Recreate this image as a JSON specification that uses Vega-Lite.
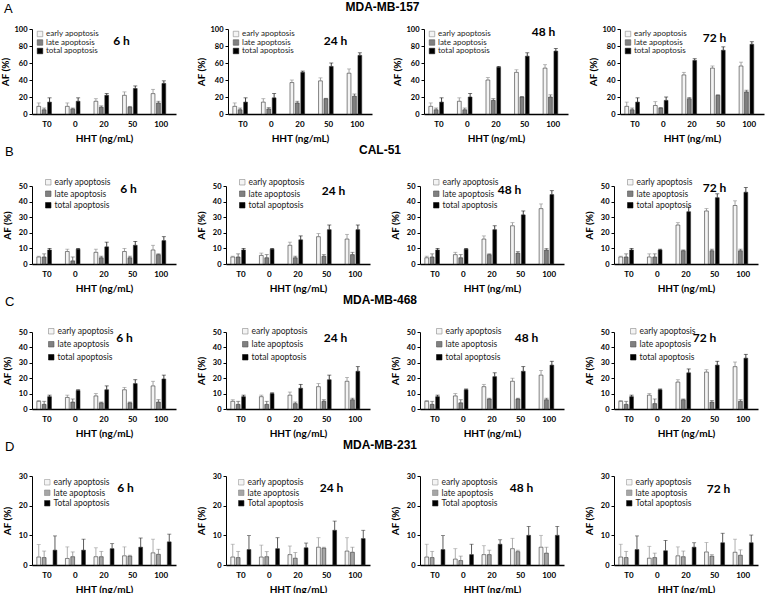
{
"$schema":"https://vega.github.io/schema/vega-lite/v6.json",
"padding":{"left":0,"top":1,"right":2,"bottom":1},
"background":"white",
"data":{"values":[
{"c":"A","t":"6 h","d":"T0","k":"early apoptosis","v":9,"hi":13},{"c":"A","t":"6 h","d":"T0","k":"late apoptosis","v":5,"hi":7},{"c":"A","t":"6 h","d":"T0","k":"total apoptosis","v":14,"hi":19},
{"c":"A","t":"6 h","d":"0","k":"early apoptosis","v":9,"hi":13},{"c":"A","t":"6 h","d":"0","k":"late apoptosis","v":6,"hi":7},{"c":"A","t":"6 h","d":"0","k":"total apoptosis","v":15,"hi":19},
{"c":"A","t":"6 h","d":"20","k":"early apoptosis","v":15,"hi":18},{"c":"A","t":"6 h","d":"20","k":"late apoptosis","v":8,"hi":9.5},{"c":"A","t":"6 h","d":"20","k":"total apoptosis","v":22,"hi":24},
{"c":"A","t":"6 h","d":"50","k":"early apoptosis","v":22,"hi":26},{"c":"A","t":"6 h","d":"50","k":"late apoptosis","v":8,"hi":9},{"c":"A","t":"6 h","d":"50","k":"total apoptosis","v":30,"hi":33},
{"c":"A","t":"6 h","d":"100","k":"early apoptosis","v":24,"hi":29},{"c":"A","t":"6 h","d":"100","k":"late apoptosis","v":13,"hi":15},{"c":"A","t":"6 h","d":"100","k":"total apoptosis","v":36,"hi":39},
{"c":"A","t":"24 h","d":"T0","k":"early apoptosis","v":9,"hi":13},{"c":"A","t":"24 h","d":"T0","k":"late apoptosis","v":5,"hi":7},{"c":"A","t":"24 h","d":"T0","k":"total apoptosis","v":14,"hi":19},
{"c":"A","t":"24 h","d":"0","k":"early apoptosis","v":14,"hi":18},{"c":"A","t":"24 h","d":"0","k":"late apoptosis","v":6,"hi":7.5},{"c":"A","t":"24 h","d":"0","k":"total apoptosis","v":19,"hi":24},
{"c":"A","t":"24 h","d":"20","k":"early apoptosis","v":37,"hi":40},{"c":"A","t":"24 h","d":"20","k":"late apoptosis","v":13,"hi":15},{"c":"A","t":"24 h","d":"20","k":"total apoptosis","v":49,"hi":50.5},
{"c":"A","t":"24 h","d":"50","k":"early apoptosis","v":39,"hi":42.5},{"c":"A","t":"24 h","d":"50","k":"late apoptosis","v":18,"hi":18.5},{"c":"A","t":"24 h","d":"50","k":"total apoptosis","v":56,"hi":60},
{"c":"A","t":"24 h","d":"100","k":"early apoptosis","v":48,"hi":53},{"c":"A","t":"24 h","d":"100","k":"late apoptosis","v":21,"hi":23.5},{"c":"A","t":"24 h","d":"100","k":"total apoptosis","v":69,"hi":72},
{"c":"A","t":"48 h","d":"T0","k":"early apoptosis","v":9,"hi":13},{"c":"A","t":"48 h","d":"T0","k":"late apoptosis","v":5,"hi":7},{"c":"A","t":"48 h","d":"T0","k":"total apoptosis","v":14,"hi":19},
{"c":"A","t":"48 h","d":"0","k":"early apoptosis","v":15,"hi":19},{"c":"A","t":"48 h","d":"0","k":"late apoptosis","v":5,"hi":7},{"c":"A","t":"48 h","d":"0","k":"total apoptosis","v":20,"hi":24},
{"c":"A","t":"48 h","d":"20","k":"early apoptosis","v":40,"hi":43},{"c":"A","t":"48 h","d":"20","k":"late apoptosis","v":16,"hi":18},{"c":"A","t":"48 h","d":"20","k":"total apoptosis","v":55,"hi":56},
{"c":"A","t":"48 h","d":"50","k":"early apoptosis","v":49,"hi":52},{"c":"A","t":"48 h","d":"50","k":"late apoptosis","v":20,"hi":20.5},{"c":"A","t":"48 h","d":"50","k":"total apoptosis","v":68,"hi":72},
{"c":"A","t":"48 h","d":"100","k":"early apoptosis","v":54,"hi":58},{"c":"A","t":"48 h","d":"100","k":"late apoptosis","v":20,"hi":22.5},{"c":"A","t":"48 h","d":"100","k":"total apoptosis","v":74,"hi":77},
{"c":"A","t":"72 h","d":"T0","k":"early apoptosis","v":9,"hi":14},{"c":"A","t":"72 h","d":"T0","k":"late apoptosis","v":5,"hi":7},{"c":"A","t":"72 h","d":"T0","k":"total apoptosis","v":14,"hi":19},
{"c":"A","t":"72 h","d":"0","k":"early apoptosis","v":10,"hi":14.5},{"c":"A","t":"72 h","d":"0","k":"late apoptosis","v":7,"hi":7.5},{"c":"A","t":"72 h","d":"0","k":"total apoptosis","v":16,"hi":20},
{"c":"A","t":"72 h","d":"20","k":"early apoptosis","v":46,"hi":49},{"c":"A","t":"72 h","d":"20","k":"late apoptosis","v":18,"hi":19.5},{"c":"A","t":"72 h","d":"20","k":"total apoptosis","v":63,"hi":65},
{"c":"A","t":"72 h","d":"50","k":"early apoptosis","v":54,"hi":56.5},{"c":"A","t":"72 h","d":"50","k":"late apoptosis","v":22,"hi":22.5},{"c":"A","t":"72 h","d":"50","k":"total apoptosis","v":75,"hi":79},
{"c":"A","t":"72 h","d":"100","k":"early apoptosis","v":56.5,"hi":61},{"c":"A","t":"72 h","d":"100","k":"late apoptosis","v":26,"hi":28},{"c":"A","t":"72 h","d":"100","k":"total apoptosis","v":82,"hi":85},

{"c":"B","t":"6 h","d":"T0","k":"early apoptosis","v":4.5,"hi":5},{"c":"B","t":"6 h","d":"T0","k":"late apoptosis","v":4.5,"hi":6.5},{"c":"B","t":"6 h","d":"T0","k":"total apoptosis","v":9,"hi":10},
{"c":"B","t":"6 h","d":"0","k":"early apoptosis","v":8,"hi":9.5},{"c":"B","t":"6 h","d":"0","k":"late apoptosis","v":2,"hi":4.5},{"c":"B","t":"6 h","d":"0","k":"total apoptosis","v":9.5,"hi":10},
{"c":"B","t":"6 h","d":"20","k":"early apoptosis","v":7.5,"hi":9.5},{"c":"B","t":"6 h","d":"20","k":"late apoptosis","v":4,"hi":5},{"c":"B","t":"6 h","d":"20","k":"total apoptosis","v":11,"hi":14},
{"c":"B","t":"6 h","d":"50","k":"early apoptosis","v":8,"hi":10},{"c":"B","t":"6 h","d":"50","k":"late apoptosis","v":4,"hi":5},{"c":"B","t":"6 h","d":"50","k":"total apoptosis","v":12,"hi":14.5},
{"c":"B","t":"6 h","d":"100","k":"early apoptosis","v":9,"hi":12},{"c":"B","t":"6 h","d":"100","k":"late apoptosis","v":6,"hi":6.5},{"c":"B","t":"6 h","d":"100","k":"total apoptosis","v":15,"hi":17.5},
{"c":"B","t":"24 h","d":"T0","k":"early apoptosis","v":4.5,"hi":5},{"c":"B","t":"24 h","d":"T0","k":"late apoptosis","v":4.5,"hi":6.5},{"c":"B","t":"24 h","d":"T0","k":"total apoptosis","v":9,"hi":10},
{"c":"B","t":"24 h","d":"0","k":"early apoptosis","v":5.5,"hi":7},{"c":"B","t":"24 h","d":"0","k":"late apoptosis","v":4,"hi":6},{"c":"B","t":"24 h","d":"0","k":"total apoptosis","v":9.5,"hi":10},
{"c":"B","t":"24 h","d":"20","k":"early apoptosis","v":12,"hi":14},{"c":"B","t":"24 h","d":"20","k":"late apoptosis","v":4,"hi":5},{"c":"B","t":"24 h","d":"20","k":"total apoptosis","v":15.5,"hi":18},
{"c":"B","t":"24 h","d":"50","k":"early apoptosis","v":17.5,"hi":19.5},{"c":"B","t":"24 h","d":"50","k":"late apoptosis","v":5,"hi":6},{"c":"B","t":"24 h","d":"50","k":"total apoptosis","v":22,"hi":25},
{"c":"B","t":"24 h","d":"100","k":"early apoptosis","v":16,"hi":19},{"c":"B","t":"24 h","d":"100","k":"late apoptosis","v":6,"hi":7.5},{"c":"B","t":"24 h","d":"100","k":"total apoptosis","v":22,"hi":25},
{"c":"B","t":"48 h","d":"T0","k":"early apoptosis","v":4,"hi":5},{"c":"B","t":"48 h","d":"T0","k":"late apoptosis","v":4.5,"hi":6.5},{"c":"B","t":"48 h","d":"T0","k":"total apoptosis","v":9,"hi":10},
{"c":"B","t":"48 h","d":"0","k":"early apoptosis","v":6,"hi":7.5},{"c":"B","t":"48 h","d":"0","k":"late apoptosis","v":4,"hi":6},{"c":"B","t":"48 h","d":"0","k":"total apoptosis","v":9.5,"hi":10},
{"c":"B","t":"48 h","d":"20","k":"early apoptosis","v":16,"hi":18},{"c":"B","t":"48 h","d":"20","k":"late apoptosis","v":6,"hi":6.5},{"c":"B","t":"48 h","d":"20","k":"total apoptosis","v":22,"hi":24.5},
{"c":"B","t":"48 h","d":"50","k":"early apoptosis","v":24.5,"hi":26.5},{"c":"B","t":"48 h","d":"50","k":"late apoptosis","v":7,"hi":8},{"c":"B","t":"48 h","d":"50","k":"total apoptosis","v":31.5,"hi":34},
{"c":"B","t":"48 h","d":"100","k":"early apoptosis","v":35.5,"hi":38.5},{"c":"B","t":"48 h","d":"100","k":"late apoptosis","v":9,"hi":10},{"c":"B","t":"48 h","d":"100","k":"total apoptosis","v":44.5,"hi":47},
{"c":"B","t":"72 h","d":"T0","k":"early apoptosis","v":4.5,"hi":5},{"c":"B","t":"72 h","d":"T0","k":"late apoptosis","v":4.5,"hi":6.5},{"c":"B","t":"72 h","d":"T0","k":"total apoptosis","v":9,"hi":10},
{"c":"B","t":"72 h","d":"0","k":"early apoptosis","v":4.5,"hi":6.5},{"c":"B","t":"72 h","d":"0","k":"late apoptosis","v":4.5,"hi":6.5},{"c":"B","t":"72 h","d":"0","k":"total apoptosis","v":9,"hi":9.5},
{"c":"B","t":"72 h","d":"20","k":"early apoptosis","v":25,"hi":26.5},{"c":"B","t":"72 h","d":"20","k":"late apoptosis","v":8.5,"hi":9},{"c":"B","t":"72 h","d":"20","k":"total apoptosis","v":33.5,"hi":36.5},
{"c":"B","t":"72 h","d":"50","k":"early apoptosis","v":34,"hi":35.5},{"c":"B","t":"72 h","d":"50","k":"late apoptosis","v":8.5,"hi":9.5},{"c":"B","t":"72 h","d":"50","k":"total apoptosis","v":42.5,"hi":45},
{"c":"B","t":"72 h","d":"100","k":"early apoptosis","v":37.5,"hi":40.5},{"c":"B","t":"72 h","d":"100","k":"late apoptosis","v":8.5,"hi":9.5},{"c":"B","t":"72 h","d":"100","k":"total apoptosis","v":46,"hi":49},

{"c":"C","t":"6 h","d":"T0","k":"early apoptosis","v":5,"hi":5.5},{"c":"C","t":"6 h","d":"T0","k":"late apoptosis","v":3,"hi":5},{"c":"C","t":"6 h","d":"T0","k":"total apoptosis","v":8,"hi":9},
{"c":"C","t":"6 h","d":"0","k":"early apoptosis","v":7.5,"hi":9},{"c":"C","t":"6 h","d":"0","k":"late apoptosis","v":4.5,"hi":6.5},{"c":"C","t":"6 h","d":"0","k":"total apoptosis","v":12,"hi":12.5},
{"c":"C","t":"6 h","d":"20","k":"early apoptosis","v":8.5,"hi":10},{"c":"C","t":"6 h","d":"20","k":"late apoptosis","v":4,"hi":4.5},{"c":"C","t":"6 h","d":"20","k":"total apoptosis","v":12.5,"hi":15},
{"c":"C","t":"6 h","d":"50","k":"early apoptosis","v":12.5,"hi":14},{"c":"C","t":"6 h","d":"50","k":"late apoptosis","v":4,"hi":4.5},{"c":"C","t":"6 h","d":"50","k":"total apoptosis","v":16.5,"hi":19},
{"c":"C","t":"6 h","d":"100","k":"early apoptosis","v":15,"hi":18},{"c":"C","t":"6 h","d":"100","k":"late apoptosis","v":4.5,"hi":6},{"c":"C","t":"6 h","d":"100","k":"total apoptosis","v":19.5,"hi":22},
{"c":"C","t":"24 h","d":"T0","k":"early apoptosis","v":5,"hi":6},{"c":"C","t":"24 h","d":"T0","k":"late apoptosis","v":3,"hi":5},{"c":"C","t":"24 h","d":"T0","k":"total apoptosis","v":8,"hi":9},
{"c":"C","t":"24 h","d":"0","k":"early apoptosis","v":8,"hi":9},{"c":"C","t":"24 h","d":"0","k":"late apoptosis","v":3,"hi":5},{"c":"C","t":"24 h","d":"0","k":"total apoptosis","v":10,"hi":10.5},
{"c":"C","t":"24 h","d":"20","k":"early apoptosis","v":9,"hi":11},{"c":"C","t":"24 h","d":"20","k":"late apoptosis","v":3.5,"hi":4.5},{"c":"C","t":"24 h","d":"20","k":"total apoptosis","v":13.5,"hi":16},
{"c":"C","t":"24 h","d":"50","k":"early apoptosis","v":14.5,"hi":16.5},{"c":"C","t":"24 h","d":"50","k":"late apoptosis","v":5,"hi":6},{"c":"C","t":"24 h","d":"50","k":"total apoptosis","v":19,"hi":22},
{"c":"C","t":"24 h","d":"100","k":"early apoptosis","v":18,"hi":20.5},{"c":"C","t":"24 h","d":"100","k":"late apoptosis","v":6,"hi":7},{"c":"C","t":"24 h","d":"100","k":"total apoptosis","v":24.5,"hi":27.5},
{"c":"C","t":"48 h","d":"T0","k":"early apoptosis","v":5,"hi":5.5},{"c":"C","t":"48 h","d":"T0","k":"late apoptosis","v":3,"hi":5},{"c":"C","t":"48 h","d":"T0","k":"total apoptosis","v":8,"hi":9},
{"c":"C","t":"48 h","d":"0","k":"early apoptosis","v":8.5,"hi":10},{"c":"C","t":"48 h","d":"0","k":"late apoptosis","v":4,"hi":6},{"c":"C","t":"48 h","d":"0","k":"total apoptosis","v":12.5,"hi":13},
{"c":"C","t":"48 h","d":"20","k":"early apoptosis","v":14.5,"hi":16},{"c":"C","t":"48 h","d":"20","k":"late apoptosis","v":6.5,"hi":7},{"c":"C","t":"48 h","d":"20","k":"total apoptosis","v":21,"hi":23.5},
{"c":"C","t":"48 h","d":"50","k":"early apoptosis","v":18,"hi":20},{"c":"C","t":"48 h","d":"50","k":"late apoptosis","v":6.5,"hi":7},{"c":"C","t":"48 h","d":"50","k":"total apoptosis","v":24.5,"hi":27.5},
{"c":"C","t":"48 h","d":"100","k":"early apoptosis","v":22,"hi":25},{"c":"C","t":"48 h","d":"100","k":"late apoptosis","v":6,"hi":7},{"c":"C","t":"48 h","d":"100","k":"total apoptosis","v":28.5,"hi":31},
{"c":"C","t":"72 h","d":"T0","k":"early apoptosis","v":5,"hi":5.5},{"c":"C","t":"72 h","d":"T0","k":"late apoptosis","v":3,"hi":5},{"c":"C","t":"72 h","d":"T0","k":"total apoptosis","v":8,"hi":9},
{"c":"C","t":"72 h","d":"0","k":"early apoptosis","v":9,"hi":10},{"c":"C","t":"72 h","d":"0","k":"late apoptosis","v":3.5,"hi":6.5},{"c":"C","t":"72 h","d":"0","k":"total apoptosis","v":12.5,"hi":13},
{"c":"C","t":"72 h","d":"20","k":"early apoptosis","v":17.5,"hi":19},{"c":"C","t":"72 h","d":"20","k":"late apoptosis","v":6,"hi":6.5},{"c":"C","t":"72 h","d":"20","k":"total apoptosis","v":23.5,"hi":26},
{"c":"C","t":"72 h","d":"50","k":"early apoptosis","v":24,"hi":25.5},{"c":"C","t":"72 h","d":"50","k":"late apoptosis","v":4.5,"hi":5.5},{"c":"C","t":"72 h","d":"50","k":"total apoptosis","v":28.5,"hi":31},
{"c":"C","t":"72 h","d":"100","k":"early apoptosis","v":27.5,"hi":30.5},{"c":"C","t":"72 h","d":"100","k":"late apoptosis","v":5,"hi":6},{"c":"C","t":"72 h","d":"100","k":"total apoptosis","v":33,"hi":35.5},

{"c":"D","t":"6 h","d":"T0","k":"early apoptosis","v":2.7,"hi":6.9},{"c":"D","t":"6 h","d":"T0","k":"late apoptosis","v":2.5,"hi":4.7},{"c":"D","t":"6 h","d":"T0","k":"Total apoptosis","v":5,"hi":9.8},
{"c":"D","t":"6 h","d":"0","k":"early apoptosis","v":2.2,"hi":6.1},{"c":"D","t":"6 h","d":"0","k":"late apoptosis","v":2.8,"hi":4.4},{"c":"D","t":"6 h","d":"0","k":"Total apoptosis","v":5,"hi":8.7},
{"c":"D","t":"6 h","d":"20","k":"early apoptosis","v":2.8,"hi":5.8},{"c":"D","t":"6 h","d":"20","k":"late apoptosis","v":2.8,"hi":4.6},{"c":"D","t":"6 h","d":"20","k":"Total apoptosis","v":5.5,"hi":7.2},
{"c":"D","t":"6 h","d":"50","k":"early apoptosis","v":3.1,"hi":6.1},{"c":"D","t":"6 h","d":"50","k":"late apoptosis","v":3,"hi":3.3},{"c":"D","t":"6 h","d":"50","k":"Total apoptosis","v":6,"hi":9.1},
{"c":"D","t":"6 h","d":"100","k":"early apoptosis","v":4.1,"hi":8.7},{"c":"D","t":"6 h","d":"100","k":"late apoptosis","v":3.6,"hi":5.3},{"c":"D","t":"6 h","d":"100","k":"Total apoptosis","v":7.8,"hi":10.4},
{"c":"D","t":"24 h","d":"T0","k":"early apoptosis","v":2.7,"hi":7},{"c":"D","t":"24 h","d":"T0","k":"late apoptosis","v":2.5,"hi":4.6},{"c":"D","t":"24 h","d":"T0","k":"Total apoptosis","v":5.2,"hi":9.9},
{"c":"D","t":"24 h","d":"0","k":"early apoptosis","v":2.7,"hi":6.7},{"c":"D","t":"24 h","d":"0","k":"late apoptosis","v":2.8,"hi":4.5},{"c":"D","t":"24 h","d":"0","k":"Total apoptosis","v":5.5,"hi":9.2},
{"c":"D","t":"24 h","d":"20","k":"early apoptosis","v":3.5,"hi":6.4},{"c":"D","t":"24 h","d":"20","k":"late apoptosis","v":2.3,"hi":4.2},{"c":"D","t":"24 h","d":"20","k":"Total apoptosis","v":5.8,"hi":7.4},
{"c":"D","t":"24 h","d":"50","k":"early apoptosis","v":6,"hi":9.2},{"c":"D","t":"24 h","d":"50","k":"late apoptosis","v":5.7,"hi":6},{"c":"D","t":"24 h","d":"50","k":"Total apoptosis","v":11.7,"hi":14.8},
{"c":"D","t":"24 h","d":"100","k":"early apoptosis","v":4.7,"hi":9.2},{"c":"D","t":"24 h","d":"100","k":"late apoptosis","v":4.3,"hi":6},{"c":"D","t":"24 h","d":"100","k":"Total apoptosis","v":8.9,"hi":11.7},
{"c":"D","t":"48 h","d":"T0","k":"early apoptosis","v":2.7,"hi":7},{"c":"D","t":"48 h","d":"T0","k":"late apoptosis","v":2.5,"hi":4.6},{"c":"D","t":"48 h","d":"T0","k":"Total apoptosis","v":5.2,"hi":9.9},
{"c":"D","t":"48 h","d":"0","k":"early apoptosis","v":2,"hi":5.5},{"c":"D","t":"48 h","d":"0","k":"late apoptosis","v":1.5,"hi":3},{"c":"D","t":"48 h","d":"0","k":"Total apoptosis","v":3.5,"hi":7},
{"c":"D","t":"48 h","d":"20","k":"early apoptosis","v":3.5,"hi":6.5},{"c":"D","t":"48 h","d":"20","k":"late apoptosis","v":3.5,"hi":5},{"c":"D","t":"48 h","d":"20","k":"Total apoptosis","v":7,"hi":8.5},
{"c":"D","t":"48 h","d":"50","k":"early apoptosis","v":5.5,"hi":9},{"c":"D","t":"48 h","d":"50","k":"late apoptosis","v":4.5,"hi":5},{"c":"D","t":"48 h","d":"50","k":"Total apoptosis","v":10,"hi":13},
{"c":"D","t":"48 h","d":"100","k":"early apoptosis","v":6,"hi":10},{"c":"D","t":"48 h","d":"100","k":"late apoptosis","v":4,"hi":6},{"c":"D","t":"48 h","d":"100","k":"Total apoptosis","v":10,"hi":13},
{"c":"D","t":"72 h","d":"T0","k":"early apoptosis","v":2.7,"hi":7},{"c":"D","t":"72 h","d":"T0","k":"late apoptosis","v":2.5,"hi":4.6},{"c":"D","t":"72 h","d":"T0","k":"Total apoptosis","v":5.2,"hi":9.8},
{"c":"D","t":"72 h","d":"0","k":"early apoptosis","v":2.3,"hi":6.3},{"c":"D","t":"72 h","d":"0","k":"late apoptosis","v":2.5,"hi":4},{"c":"D","t":"72 h","d":"0","k":"Total apoptosis","v":4.8,"hi":8.3},
{"c":"D","t":"72 h","d":"20","k":"early apoptosis","v":3.1,"hi":6.1},{"c":"D","t":"72 h","d":"20","k":"late apoptosis","v":2.8,"hi":4.7},{"c":"D","t":"72 h","d":"20","k":"Total apoptosis","v":6,"hi":7.5},
{"c":"D","t":"72 h","d":"50","k":"early apoptosis","v":4.4,"hi":7.6},{"c":"D","t":"72 h","d":"50","k":"late apoptosis","v":3,"hi":3.5},{"c":"D","t":"72 h","d":"50","k":"Total apoptosis","v":7.5,"hi":10.7},
{"c":"D","t":"72 h","d":"100","k":"early apoptosis","v":4.3,"hi":8.7},{"c":"D","t":"72 h","d":"100","k":"late apoptosis","v":3.3,"hi":5.1},{"c":"D","t":"72 h","d":"100","k":"Total apoptosis","v":7.5,"hi":10.1}
]},
"config":{
"view":{"stroke":null},
"font":"Lato",
"axisX":{"domainWidth":1.6,"domainColor":"#000","ticks":false,"labelFontWeight":"bold","labelFontSize":8,"labelColor":"#000","labelPadding":6,"titleFontSize":10,"titleFontWeight":"bold","titleColor":"#000","titlePadding":5,"labelAngle":0,"grid":false},
"axisY":{"domainColor":"#000","domainWidth":1,"tickColor":"#000","tickSize":3,"labelFontWeight":"bold","labelFontSize":7.5,"labelColor":"#000","labelPadding":2,"labelOverlap":false,"titleFontSize":10,"titleFontWeight":"bold","titleColor":"#000","titlePadding":3,"grid":false,"minExtent":17},
"legend":{"symbolType":"square","symbolSize":30,"labelFontSize":8,"labelFont":"Lato","labelColor":"#222","padding":0,"symbolStrokeColor":"#333","symbolStrokeWidth":0.6,"labelOffset":2},
"title":{"font":"Liberation Sans","color":"#000"}
},
"spacing":1,
"resolve":{"scale":{"fill":"independent","color":"independent","x":"independent","y":"independent"},"legend":{"fill":"independent"}},
"vconcat":[
{"title":{"text":"A","anchor":"start","fontSize":13,"fontWeight":"normal","offset":-15,"dx":3},
 "resolve":{"scale":{"fill":"independent","color":"independent","x":"independent","y":"independent"},"legend":{"fill":"independent"}},
 "vconcat":[{"title":{"text":"MDA-MB-157","anchor":"middle","fontSize":12,"fontWeight":"bold","offset":11},
 "spacing":20,
 "resolve":{"scale":{"fill":"independent","color":"independent","x":"independent","y":"independent"},"legend":{"fill":"independent"}},
 "hconcat":[
  {"width":144,"height":85,"layer":[
   {"transform":[{"filter":"datum.c=='A' && datum.t=='6 h'"}],
    "encoding":{"x":{"field":"d","type":"nominal","scale":{"domain":["T0","0","20","50","100"],"paddingInner":0.3,"paddingOuter":0.17},"title":"HHT (ng/mL)"},"xOffset":{"field":"k","type":"nominal","scale":{"domain":["early apoptosis","late apoptosis","total apoptosis"],"paddingInner":0.3}}},
    "layer":[
     {"mark":{"type":"bar","stroke":"#333","strokeWidth":0.6},"encoding":{"y":{"field":"v","type":"quantitative","scale":{"domain":[0,100]},"axis":{"values":[0,20,40,60,80,100],"labelOverlap":false},"title":"AF (%)"},"fill":{"field":"k","type":"nominal","scale":{"domain":["early apoptosis","late apoptosis","total apoptosis"],"range":["#f4f4f4","#808080","#000000"]},"legend":{"title":null,"orient":"none","legendX":4,"legendY":1,"rowPadding":0.5}}}},
     {"mark":{"type":"rule","strokeWidth":0.8},"encoding":{"y":{"field":"v","type":"quantitative","axis":{"values":[0,20,40,60,80,100],"labelOverlap":false},"title":"AF (%)"},"y2":{"field":"hi"},"color":{"field":"k","type":"nominal","scale":{"domain":["early apoptosis","late apoptosis","total apoptosis"],"range":["#8a8a8a","#555555","#111111"]},"legend":null}}},
     {"mark":{"type":"tick","size":4,"thickness":0.8},"encoding":{"y":{"field":"hi","type":"quantitative","axis":{"values":[0,20,40,60,80,100],"labelOverlap":false},"title":"AF (%)"},"color":{"field":"k","type":"nominal","scale":{"domain":["early apoptosis","late apoptosis","total apoptosis"],"range":["#8a8a8a","#555555","#111111"]},"legend":null}}}
    ]},
   {"data":{"values":[{}]},"mark":{"type":"text","fontSize":12,"fontWeight":"bold","dx":-11},"encoding":{"x":{"datum":"50"},"y":{"datum":86,"axis":{"values":[0,20,40,60,80,100],"labelOverlap":false},"title":"AF (%)"},"text":{"value":"6 h"}}}
  ]},
  {"width":144,"height":85,"layer":[
   {"transform":[{"filter":"datum.c=='A' && datum.t=='24 h'"}],
    "encoding":{"x":{"field":"d","type":"nominal","scale":{"domain":["T0","0","20","50","100"],"paddingInner":0.3,"paddingOuter":0.17},"title":"HHT (ng/mL)"},"xOffset":{"field":"k","type":"nominal","scale":{"domain":["early apoptosis","late apoptosis","total apoptosis"],"paddingInner":0.3}}},
    "layer":[
     {"mark":{"type":"bar","stroke":"#333","strokeWidth":0.6},"encoding":{"y":{"field":"v","type":"quantitative","scale":{"domain":[0,100]},"axis":{"values":[0,20,40,60,80,100],"labelOverlap":false},"title":"AF (%)"},"fill":{"field":"k","type":"nominal","scale":{"domain":["early apoptosis","late apoptosis","total apoptosis"],"range":["#f4f4f4","#808080","#000000"]},"legend":{"title":null,"orient":"none","legendX":4,"legendY":1,"rowPadding":0.5}}}},
     {"mark":{"type":"rule","strokeWidth":0.8},"encoding":{"y":{"field":"v","type":"quantitative","axis":{"values":[0,20,40,60,80,100],"labelOverlap":false},"title":"AF (%)"},"y2":{"field":"hi"},"color":{"field":"k","type":"nominal","scale":{"domain":["early apoptosis","late apoptosis","total apoptosis"],"range":["#8a8a8a","#555555","#111111"]},"legend":null}}},
     {"mark":{"type":"tick","size":4,"thickness":0.8},"encoding":{"y":{"field":"hi","type":"quantitative","axis":{"values":[0,20,40,60,80,100],"labelOverlap":false},"title":"AF (%)"},"color":{"field":"k","type":"nominal","scale":{"domain":["early apoptosis","late apoptosis","total apoptosis"],"range":["#8a8a8a","#555555","#111111"]},"legend":null}}}
    ]},
   {"data":{"values":[{}]},"mark":{"type":"text","fontSize":12,"fontWeight":"bold","dx":7},"encoding":{"x":{"datum":"50"},"y":{"datum":86,"axis":{"values":[0,20,40,60,80,100],"labelOverlap":false},"title":"AF (%)"},"text":{"value":"24 h"}}}
  ]},
  {"width":144,"height":85,"layer":[
   {"transform":[{"filter":"datum.c=='A' && datum.t=='48 h'"}],
    "encoding":{"x":{"field":"d","type":"nominal","scale":{"domain":["T0","0","20","50","100"],"paddingInner":0.3,"paddingOuter":0.17},"title":"HHT (ng/mL)"},"xOffset":{"field":"k","type":"nominal","scale":{"domain":["early apoptosis","late apoptosis","total apoptosis"],"paddingInner":0.3}}},
    "layer":[
     {"mark":{"type":"bar","stroke":"#333","strokeWidth":0.6},"encoding":{"y":{"field":"v","type":"quantitative","scale":{"domain":[0,100]},"axis":{"values":[0,20,40,60,80,100],"labelOverlap":false},"title":"AF (%)"},"fill":{"field":"k","type":"nominal","scale":{"domain":["early apoptosis","late apoptosis","total apoptosis"],"range":["#f4f4f4","#808080","#000000"]},"legend":{"title":null,"orient":"none","legendX":4,"legendY":1,"rowPadding":0.5}}}},
     {"mark":{"type":"rule","strokeWidth":0.8},"encoding":{"y":{"field":"v","type":"quantitative","axis":{"values":[0,20,40,60,80,100],"labelOverlap":false},"title":"AF (%)"},"y2":{"field":"hi"},"color":{"field":"k","type":"nominal","scale":{"domain":["early apoptosis","late apoptosis","total apoptosis"],"range":["#8a8a8a","#555555","#111111"]},"legend":null}}},
     {"mark":{"type":"tick","size":4,"thickness":0.8},"encoding":{"y":{"field":"hi","type":"quantitative","axis":{"values":[0,20,40,60,80,100],"labelOverlap":false},"title":"AF (%)"},"color":{"field":"k","type":"nominal","scale":{"domain":["early apoptosis","late apoptosis","total apoptosis"],"range":["#8a8a8a","#555555","#111111"]},"legend":null}}}
    ]},
   {"data":{"values":[{}]},"mark":{"type":"text","fontSize":12,"fontWeight":"bold","dx":19},"encoding":{"x":{"datum":"50"},"y":{"datum":96,"axis":{"values":[0,20,40,60,80,100],"labelOverlap":false},"title":"AF (%)"},"text":{"value":"48 h"}}}
  ]},
  {"width":144,"height":85,"layer":[
   {"transform":[{"filter":"datum.c=='A' && datum.t=='72 h'"}],
    "encoding":{"x":{"field":"d","type":"nominal","scale":{"domain":["T0","0","20","50","100"],"paddingInner":0.3,"paddingOuter":0.17},"title":"HHT (ng/mL)"},"xOffset":{"field":"k","type":"nominal","scale":{"domain":["early apoptosis","late apoptosis","total apoptosis"],"paddingInner":0.3}}},
    "layer":[
     {"mark":{"type":"bar","stroke":"#333","strokeWidth":0.6},"encoding":{"y":{"field":"v","type":"quantitative","scale":{"domain":[0,100]},"axis":{"values":[0,20,40,60,80,100],"labelOverlap":false},"title":"AF (%)"},"fill":{"field":"k","type":"nominal","scale":{"domain":["early apoptosis","late apoptosis","total apoptosis"],"range":["#f4f4f4","#808080","#000000"]},"legend":{"title":null,"orient":"none","legendX":4,"legendY":1,"rowPadding":0.5}}}},
     {"mark":{"type":"rule","strokeWidth":0.8},"encoding":{"y":{"field":"v","type":"quantitative","axis":{"values":[0,20,40,60,80,100],"labelOverlap":false},"title":"AF (%)"},"y2":{"field":"hi"},"color":{"field":"k","type":"nominal","scale":{"domain":["early apoptosis","late apoptosis","total apoptosis"],"range":["#8a8a8a","#555555","#111111"]},"legend":null}}},
     {"mark":{"type":"tick","size":4,"thickness":0.8},"encoding":{"y":{"field":"hi","type":"quantitative","axis":{"values":[0,20,40,60,80,100],"labelOverlap":false},"title":"AF (%)"},"color":{"field":"k","type":"nominal","scale":{"domain":["early apoptosis","late apoptosis","total apoptosis"],"range":["#8a8a8a","#555555","#111111"]},"legend":null}}}
    ]},
   {"data":{"values":[{}]},"mark":{"type":"text","fontSize":12,"fontWeight":"bold","dx":-6},"encoding":{"x":{"datum":"50"},"y":{"datum":90,"axis":{"values":[0,20,40,60,80,100],"labelOverlap":false},"title":"AF (%)"},"text":{"value":"72 h"}}}
  ]}
 ]}]},

{"title":{"text":"B","anchor":"start","fontSize":13,"fontWeight":"normal","offset":-15,"dx":3},
 "resolve":{"scale":{"fill":"independent","color":"independent","x":"independent","y":"independent"},"legend":{"fill":"independent"}},
 "vconcat":[{"title":{"text":"CAL-51","anchor":"middle","fontSize":12,"fontWeight":"bold","offset":21},
 "spacing":20,
 "resolve":{"scale":{"fill":"independent","color":"independent","x":"independent","y":"independent"},"legend":{"fill":"independent"}},
 "hconcat":[
  {"width":144,"height":78,"layer":[
   {"transform":[{"filter":"datum.c=='B' && datum.t=='6 h'"}],
    "encoding":{"x":{"field":"d","type":"nominal","scale":{"domain":["T0","0","20","50","100"],"paddingInner":0.3,"paddingOuter":0.17},"title":"HHT (ng/mL)"},"xOffset":{"field":"k","type":"nominal","scale":{"domain":["early apoptosis","late apoptosis","total apoptosis"],"paddingInner":0.3}}},
    "layer":[
     {"mark":{"type":"bar","stroke":"#333","strokeWidth":0.6},"encoding":{"y":{"field":"v","type":"quantitative","scale":{"domain":[0,50]},"axis":{"values":[0,10,20,30,40,50],"labelOverlap":false},"title":"AF (%)"},"fill":{"field":"k","type":"nominal","scale":{"domain":["early apoptosis","late apoptosis","total apoptosis"],"range":["#f4f4f4","#808080","#000000"]},"legend":{"title":null,"orient":"none","legendX":12,"legendY":-8,"rowPadding":2.5,"labelFontSize":8.5}}}},
     {"mark":{"type":"rule","strokeWidth":0.8},"encoding":{"y":{"field":"v","type":"quantitative","axis":{"values":[0,10,20,30,40,50],"labelOverlap":false},"title":"AF (%)"},"y2":{"field":"hi"},"color":{"field":"k","type":"nominal","scale":{"domain":["early apoptosis","late apoptosis","total apoptosis"],"range":["#8a8a8a","#555555","#111111"]},"legend":null}}},
     {"mark":{"type":"tick","size":4,"thickness":0.8},"encoding":{"y":{"field":"hi","type":"quantitative","axis":{"values":[0,10,20,30,40,50],"labelOverlap":false},"title":"AF (%)"},"color":{"field":"k","type":"nominal","scale":{"domain":["early apoptosis","late apoptosis","total apoptosis"],"range":["#8a8a8a","#555555","#111111"]},"legend":null}}}
    ]},
   {"data":{"values":[{}]},"mark":{"type":"text","fontSize":12,"fontWeight":"bold","dx":-4},"encoding":{"x":{"datum":"50"},"y":{"datum":48,"axis":{"values":[0,10,20,30,40,50],"labelOverlap":false},"title":"AF (%)"},"text":{"value":"6 h"}}}
  ]},
  {"width":144,"height":78,"layer":[
   {"transform":[{"filter":"datum.c=='B' && datum.t=='24 h'"}],
    "encoding":{"x":{"field":"d","type":"nominal","scale":{"domain":["T0","0","20","50","100"],"paddingInner":0.3,"paddingOuter":0.17},"title":"HHT (ng/mL)"},"xOffset":{"field":"k","type":"nominal","scale":{"domain":["early apoptosis","late apoptosis","total apoptosis"],"paddingInner":0.3}}},
    "layer":[
     {"mark":{"type":"bar","stroke":"#333","strokeWidth":0.6},"encoding":{"y":{"field":"v","type":"quantitative","scale":{"domain":[0,50]},"axis":{"values":[0,10,20,30,40,50],"labelOverlap":false},"title":"AF (%)"},"fill":{"field":"k","type":"nominal","scale":{"domain":["early apoptosis","late apoptosis","total apoptosis"],"range":["#f4f4f4","#808080","#000000"]},"legend":{"title":null,"orient":"none","legendX":12,"legendY":-8,"rowPadding":2.5,"labelFontSize":8.5}}}},
     {"mark":{"type":"rule","strokeWidth":0.8},"encoding":{"y":{"field":"v","type":"quantitative","axis":{"values":[0,10,20,30,40,50],"labelOverlap":false},"title":"AF (%)"},"y2":{"field":"hi"},"color":{"field":"k","type":"nominal","scale":{"domain":["early apoptosis","late apoptosis","total apoptosis"],"range":["#8a8a8a","#555555","#111111"]},"legend":null}}},
     {"mark":{"type":"tick","size":4,"thickness":0.8},"encoding":{"y":{"field":"hi","type":"quantitative","axis":{"values":[0,10,20,30,40,50],"labelOverlap":false},"title":"AF (%)"},"color":{"field":"k","type":"nominal","scale":{"domain":["early apoptosis","late apoptosis","total apoptosis"],"range":["#8a8a8a","#555555","#111111"]},"legend":null}}}
    ]},
   {"data":{"values":[{}]},"mark":{"type":"text","fontSize":12,"fontWeight":"bold","dx":7},"encoding":{"x":{"datum":"50"},"y":{"datum":47,"axis":{"values":[0,10,20,30,40,50],"labelOverlap":false},"title":"AF (%)"},"text":{"value":"24 h"}}}
  ]},
  {"width":144,"height":78,"layer":[
   {"transform":[{"filter":"datum.c=='B' && datum.t=='48 h'"}],
    "encoding":{"x":{"field":"d","type":"nominal","scale":{"domain":["T0","0","20","50","100"],"paddingInner":0.3,"paddingOuter":0.17},"title":"HHT (ng/mL)"},"xOffset":{"field":"k","type":"nominal","scale":{"domain":["early apoptosis","late apoptosis","total apoptosis"],"paddingInner":0.3}}},
    "layer":[
     {"mark":{"type":"bar","stroke":"#333","strokeWidth":0.6},"encoding":{"y":{"field":"v","type":"quantitative","scale":{"domain":[0,50]},"axis":{"values":[0,10,20,30,40,50],"labelOverlap":false},"title":"AF (%)"},"fill":{"field":"k","type":"nominal","scale":{"domain":["early apoptosis","late apoptosis","total apoptosis"],"range":["#f4f4f4","#808080","#000000"]},"legend":{"title":null,"orient":"none","legendX":12,"legendY":-8,"rowPadding":2.5,"labelFontSize":8.5}}}},
     {"mark":{"type":"rule","strokeWidth":0.8},"encoding":{"y":{"field":"v","type":"quantitative","axis":{"values":[0,10,20,30,40,50],"labelOverlap":false},"title":"AF (%)"},"y2":{"field":"hi"},"color":{"field":"k","type":"nominal","scale":{"domain":["early apoptosis","late apoptosis","total apoptosis"],"range":["#8a8a8a","#555555","#111111"]},"legend":null}}},
     {"mark":{"type":"tick","size":4,"thickness":0.8},"encoding":{"y":{"field":"hi","type":"quantitative","axis":{"values":[0,10,20,30,40,50],"labelOverlap":false},"title":"AF (%)"},"color":{"field":"k","type":"nominal","scale":{"domain":["early apoptosis","late apoptosis","total apoptosis"],"range":["#8a8a8a","#555555","#111111"]},"legend":null}}}
    ]},
   {"data":{"values":[{}]},"mark":{"type":"text","fontSize":12,"fontWeight":"bold","dx":-11},"encoding":{"x":{"datum":"50"},"y":{"datum":47.5,"axis":{"values":[0,10,20,30,40,50],"labelOverlap":false},"title":"AF (%)"},"text":{"value":"48 h"}}}
  ]},
  {"width":144,"height":78,"layer":[
   {"transform":[{"filter":"datum.c=='B' && datum.t=='72 h'"}],
    "encoding":{"x":{"field":"d","type":"nominal","scale":{"domain":["T0","0","20","50","100"],"paddingInner":0.3,"paddingOuter":0.17},"title":"HHT (ng/mL)"},"xOffset":{"field":"k","type":"nominal","scale":{"domain":["early apoptosis","late apoptosis","total apoptosis"],"paddingInner":0.3}}},
    "layer":[
     {"mark":{"type":"bar","stroke":"#333","strokeWidth":0.6},"encoding":{"y":{"field":"v","type":"quantitative","scale":{"domain":[0,50]},"axis":{"values":[0,10,20,30,40,50],"labelOverlap":false},"title":"AF (%)"},"fill":{"field":"k","type":"nominal","scale":{"domain":["early apoptosis","late apoptosis","total apoptosis"],"range":["#f4f4f4","#808080","#000000"]},"legend":{"title":null,"orient":"none","legendX":12,"legendY":-8,"rowPadding":2.5,"labelFontSize":8.5}}}},
     {"mark":{"type":"rule","strokeWidth":0.8},"encoding":{"y":{"field":"v","type":"quantitative","axis":{"values":[0,10,20,30,40,50],"labelOverlap":false},"title":"AF (%)"},"y2":{"field":"hi"},"color":{"field":"k","type":"nominal","scale":{"domain":["early apoptosis","late apoptosis","total apoptosis"],"range":["#8a8a8a","#555555","#111111"]},"legend":null}}},
     {"mark":{"type":"tick","size":4,"thickness":0.8},"encoding":{"y":{"field":"hi","type":"quantitative","axis":{"values":[0,10,20,30,40,50],"labelOverlap":false},"title":"AF (%)"},"color":{"field":"k","type":"nominal","scale":{"domain":["early apoptosis","late apoptosis","total apoptosis"],"range":["#8a8a8a","#555555","#111111"]},"legend":null}}}
    ]},
   {"data":{"values":[{}]},"mark":{"type":"text","fontSize":12,"fontWeight":"bold","dx":0},"encoding":{"x":{"datum":"50"},"y":{"datum":49,"axis":{"values":[0,10,20,30,40,50],"labelOverlap":false},"title":"AF (%)"},"text":{"value":"72 h"}}}
  ]}
 ]}]},

{"title":{"text":"C","anchor":"start","fontSize":13,"fontWeight":"normal","offset":-15,"dx":3},
 "resolve":{"scale":{"fill":"independent","color":"independent","x":"independent","y":"independent"},"legend":{"fill":"independent"}},
 "vconcat":[{"title":{"text":"MDA-MB-468","anchor":"middle","fontSize":12,"fontWeight":"bold","offset":20},
 "spacing":20,
 "resolve":{"scale":{"fill":"independent","color":"independent","x":"independent","y":"independent"},"legend":{"fill":"independent"}},
 "hconcat":[
  {"width":144,"height":77,"layer":[
   {"transform":[{"filter":"datum.c=='C' && datum.t=='6 h'"}],
    "encoding":{"x":{"field":"d","type":"nominal","scale":{"domain":["T0","0","20","50","100"],"paddingInner":0.3,"paddingOuter":0.17},"title":"HHT (ng/mL)"},"xOffset":{"field":"k","type":"nominal","scale":{"domain":["early apoptosis","late apoptosis","total apoptosis"],"paddingInner":0.3}}},
    "layer":[
     {"mark":{"type":"bar","stroke":"#333","strokeWidth":0.6},"encoding":{"y":{"field":"v","type":"quantitative","scale":{"domain":[0,50]},"axis":{"values":[0,10,20,30,40,50],"labelOverlap":false},"title":"AF (%)"},"fill":{"field":"k","type":"nominal","scale":{"domain":["early apoptosis","late apoptosis","total apoptosis"],"range":["#f4f4f4","#808080","#000000"]},"legend":{"title":null,"orient":"none","legendX":15,"legendY":-5,"rowPadding":4,"labelFontSize":8.5}}}},
     {"mark":{"type":"rule","strokeWidth":0.8},"encoding":{"y":{"field":"v","type":"quantitative","axis":{"values":[0,10,20,30,40,50],"labelOverlap":false},"title":"AF (%)"},"y2":{"field":"hi"},"color":{"field":"k","type":"nominal","scale":{"domain":["early apoptosis","late apoptosis","total apoptosis"],"range":["#8a8a8a","#555555","#111111"]},"legend":null}}},
     {"mark":{"type":"tick","size":4,"thickness":0.8},"encoding":{"y":{"field":"hi","type":"quantitative","axis":{"values":[0,10,20,30,40,50],"labelOverlap":false},"title":"AF (%)"},"color":{"field":"k","type":"nominal","scale":{"domain":["early apoptosis","late apoptosis","total apoptosis"],"range":["#8a8a8a","#555555","#111111"]},"legend":null}}}
    ]},
   {"data":{"values":[{}]},"mark":{"type":"text","fontSize":12,"fontWeight":"bold","dx":-8},"encoding":{"x":{"datum":"50"},"y":{"datum":46,"axis":{"values":[0,10,20,30,40,50],"labelOverlap":false},"title":"AF (%)"},"text":{"value":"6 h"}}}
  ]},
  {"width":144,"height":77,"layer":[
   {"transform":[{"filter":"datum.c=='C' && datum.t=='24 h'"}],
    "encoding":{"x":{"field":"d","type":"nominal","scale":{"domain":["T0","0","20","50","100"],"paddingInner":0.3,"paddingOuter":0.17},"title":"HHT (ng/mL)"},"xOffset":{"field":"k","type":"nominal","scale":{"domain":["early apoptosis","late apoptosis","total apoptosis"],"paddingInner":0.3}}},
    "layer":[
     {"mark":{"type":"bar","stroke":"#333","strokeWidth":0.6},"encoding":{"y":{"field":"v","type":"quantitative","scale":{"domain":[0,50]},"axis":{"values":[0,10,20,30,40,50],"labelOverlap":false},"title":"AF (%)"},"fill":{"field":"k","type":"nominal","scale":{"domain":["early apoptosis","late apoptosis","total apoptosis"],"range":["#f4f4f4","#808080","#000000"]},"legend":{"title":null,"orient":"none","legendX":15,"legendY":-5,"rowPadding":4,"labelFontSize":8.5}}}},
     {"mark":{"type":"rule","strokeWidth":0.8},"encoding":{"y":{"field":"v","type":"quantitative","axis":{"values":[0,10,20,30,40,50],"labelOverlap":false},"title":"AF (%)"},"y2":{"field":"hi"},"color":{"field":"k","type":"nominal","scale":{"domain":["early apoptosis","late apoptosis","total apoptosis"],"range":["#8a8a8a","#555555","#111111"]},"legend":null}}},
     {"mark":{"type":"tick","size":4,"thickness":0.8},"encoding":{"y":{"field":"hi","type":"quantitative","axis":{"values":[0,10,20,30,40,50],"labelOverlap":false},"title":"AF (%)"},"color":{"field":"k","type":"nominal","scale":{"domain":["early apoptosis","late apoptosis","total apoptosis"],"range":["#8a8a8a","#555555","#111111"]},"legend":null}}}
    ]},
   {"data":{"values":[{}]},"mark":{"type":"text","fontSize":12,"fontWeight":"bold","dx":9},"encoding":{"x":{"datum":"50"},"y":{"datum":46,"axis":{"values":[0,10,20,30,40,50],"labelOverlap":false},"title":"AF (%)"},"text":{"value":"24 h"}}}
  ]},
  {"width":144,"height":77,"layer":[
   {"transform":[{"filter":"datum.c=='C' && datum.t=='48 h'"}],
    "encoding":{"x":{"field":"d","type":"nominal","scale":{"domain":["T0","0","20","50","100"],"paddingInner":0.3,"paddingOuter":0.17},"title":"HHT (ng/mL)"},"xOffset":{"field":"k","type":"nominal","scale":{"domain":["early apoptosis","late apoptosis","total apoptosis"],"paddingInner":0.3}}},
    "layer":[
     {"mark":{"type":"bar","stroke":"#333","strokeWidth":0.6},"encoding":{"y":{"field":"v","type":"quantitative","scale":{"domain":[0,50]},"axis":{"values":[0,10,20,30,40,50],"labelOverlap":false},"title":"AF (%)"},"fill":{"field":"k","type":"nominal","scale":{"domain":["early apoptosis","late apoptosis","total apoptosis"],"range":["#f4f4f4","#808080","#000000"]},"legend":{"title":null,"orient":"none","legendX":15,"legendY":-5,"rowPadding":4,"labelFontSize":8.5}}}},
     {"mark":{"type":"rule","strokeWidth":0.8},"encoding":{"y":{"field":"v","type":"quantitative","axis":{"values":[0,10,20,30,40,50],"labelOverlap":false},"title":"AF (%)"},"y2":{"field":"hi"},"color":{"field":"k","type":"nominal","scale":{"domain":["early apoptosis","late apoptosis","total apoptosis"],"range":["#8a8a8a","#555555","#111111"]},"legend":null}}},
     {"mark":{"type":"tick","size":4,"thickness":0.8},"encoding":{"y":{"field":"hi","type":"quantitative","axis":{"values":[0,10,20,30,40,50],"labelOverlap":false},"title":"AF (%)"},"color":{"field":"k","type":"nominal","scale":{"domain":["early apoptosis","late apoptosis","total apoptosis"],"range":["#8a8a8a","#555555","#111111"]},"legend":null}}}
    ]},
   {"data":{"values":[{}]},"mark":{"type":"text","fontSize":12,"fontWeight":"bold","dx":6},"encoding":{"x":{"datum":"50"},"y":{"datum":46,"axis":{"values":[0,10,20,30,40,50],"labelOverlap":false},"title":"AF (%)"},"text":{"value":"48 h"}}}
  ]},
  {"width":144,"height":77,"layer":[
   {"transform":[{"filter":"datum.c=='C' && datum.t=='72 h'"}],
    "encoding":{"x":{"field":"d","type":"nominal","scale":{"domain":["T0","0","20","50","100"],"paddingInner":0.3,"paddingOuter":0.17},"title":"HHT (ng/mL)"},"xOffset":{"field":"k","type":"nominal","scale":{"domain":["early apoptosis","late apoptosis","total apoptosis"],"paddingInner":0.3}}},
    "layer":[
     {"mark":{"type":"bar","stroke":"#333","strokeWidth":0.6},"encoding":{"y":{"field":"v","type":"quantitative","scale":{"domain":[0,50]},"axis":{"values":[0,10,20,30,40,50],"labelOverlap":false},"title":"AF (%)"},"fill":{"field":"k","type":"nominal","scale":{"domain":["early apoptosis","late apoptosis","total apoptosis"],"range":["#f4f4f4","#808080","#000000"]},"legend":{"title":null,"orient":"none","legendX":15,"legendY":-5,"rowPadding":4,"labelFontSize":8.5}}}},
     {"mark":{"type":"rule","strokeWidth":0.8},"encoding":{"y":{"field":"v","type":"quantitative","axis":{"values":[0,10,20,30,40,50],"labelOverlap":false},"title":"AF (%)"},"y2":{"field":"hi"},"color":{"field":"k","type":"nominal","scale":{"domain":["early apoptosis","late apoptosis","total apoptosis"],"range":["#8a8a8a","#555555","#111111"]},"legend":null}}},
     {"mark":{"type":"tick","size":4,"thickness":0.8},"encoding":{"y":{"field":"hi","type":"quantitative","axis":{"values":[0,10,20,30,40,50],"labelOverlap":false},"title":"AF (%)"},"color":{"field":"k","type":"nominal","scale":{"domain":["early apoptosis","late apoptosis","total apoptosis"],"range":["#8a8a8a","#555555","#111111"]},"legend":null}}}
    ]},
   {"data":{"values":[{}]},"mark":{"type":"text","fontSize":12,"fontWeight":"bold","dx":-10},"encoding":{"x":{"datum":"50"},"y":{"datum":46,"axis":{"values":[0,10,20,30,40,50],"labelOverlap":false},"title":"AF (%)"},"text":{"value":"72 h"}}}
  ]}
 ]}]},

{"title":{"text":"D","anchor":"start","fontSize":13,"fontWeight":"normal","offset":-15,"dx":3},
 "resolve":{"scale":{"fill":"independent","color":"independent","x":"independent","y":"independent"},"legend":{"fill":"independent"}},
 "vconcat":[{"title":{"text":"MDA-MB-231","anchor":"middle","fontSize":12,"fontWeight":"bold","offset":20},
 "spacing":20,
 "resolve":{"scale":{"fill":"independent","color":"independent","x":"independent","y":"independent"},"legend":{"fill":"independent"}},
 "hconcat":[
  {"width":144,"height":89,"layer":[
   {"transform":[{"filter":"datum.c=='D' && datum.t=='6 h'"}],
    "encoding":{"x":{"field":"d","type":"nominal","scale":{"domain":["T0","0","20","50","100"],"paddingInner":0.3,"paddingOuter":0.17},"title":"HHT (ng/mL)"},"xOffset":{"field":"k","type":"nominal","scale":{"domain":["early apoptosis","late apoptosis","Total apoptosis"],"paddingInner":0.3}}},
    "layer":[
     {"mark":{"type":"bar","stroke":"#333","strokeWidth":0.6},"encoding":{"y":{"field":"v","type":"quantitative","scale":{"domain":[0,30]},"axis":{"values":[0,10,20,30],"labelOverlap":false},"title":"AF (%)"},"fill":{"field":"k","type":"nominal","scale":{"domain":["early apoptosis","late apoptosis","Total apoptosis"],"range":["#f4f4f4","#a6a6a6","#000000"]},"legend":{"title":null,"orient":"none","legendX":11,"legendY":2,"rowPadding":1.5,"labelFontSize":8.5}}}},
     {"mark":{"type":"rule","strokeWidth":0.8},"encoding":{"y":{"field":"v","type":"quantitative","axis":{"values":[0,10,20,30],"labelOverlap":false},"title":"AF (%)"},"y2":{"field":"hi"},"color":{"field":"k","type":"nominal","scale":{"domain":["early apoptosis","late apoptosis","Total apoptosis"],"range":["#9a9a9a","#8a8a8a","#333333"]},"legend":null}}},
     {"mark":{"type":"tick","size":4,"thickness":0.8},"encoding":{"y":{"field":"hi","type":"quantitative","axis":{"values":[0,10,20,30],"labelOverlap":false},"title":"AF (%)"},"color":{"field":"k","type":"nominal","scale":{"domain":["early apoptosis","late apoptosis","Total apoptosis"],"range":["#9a9a9a","#8a8a8a","#333333"]},"legend":null}}}
    ]},
   {"data":{"values":[{}]},"mark":{"type":"text","fontSize":12,"fontWeight":"bold","dx":-7},"encoding":{"x":{"datum":"50"},"y":{"datum":26,"axis":{"values":[0,10,20,30],"labelOverlap":false},"title":"AF (%)"},"text":{"value":"6 h"}}}
  ]},
  {"width":144,"height":89,"layer":[
   {"transform":[{"filter":"datum.c=='D' && datum.t=='24 h'"}],
    "encoding":{"x":{"field":"d","type":"nominal","scale":{"domain":["T0","0","20","50","100"],"paddingInner":0.3,"paddingOuter":0.17},"title":"HHT (ng/mL)"},"xOffset":{"field":"k","type":"nominal","scale":{"domain":["early apoptosis","late apoptosis","Total apoptosis"],"paddingInner":0.3}}},
    "layer":[
     {"mark":{"type":"bar","stroke":"#333","strokeWidth":0.6},"encoding":{"y":{"field":"v","type":"quantitative","scale":{"domain":[0,30]},"axis":{"values":[0,10,20,30],"labelOverlap":false},"title":"AF (%)"},"fill":{"field":"k","type":"nominal","scale":{"domain":["early apoptosis","late apoptosis","Total apoptosis"],"range":["#f4f4f4","#a6a6a6","#000000"]},"legend":{"title":null,"orient":"none","legendX":11,"legendY":2,"rowPadding":1.5,"labelFontSize":8.5}}}},
     {"mark":{"type":"rule","strokeWidth":0.8},"encoding":{"y":{"field":"v","type":"quantitative","axis":{"values":[0,10,20,30],"labelOverlap":false},"title":"AF (%)"},"y2":{"field":"hi"},"color":{"field":"k","type":"nominal","scale":{"domain":["early apoptosis","late apoptosis","Total apoptosis"],"range":["#9a9a9a","#8a8a8a","#333333"]},"legend":null}}},
     {"mark":{"type":"tick","size":4,"thickness":0.8},"encoding":{"y":{"field":"hi","type":"quantitative","axis":{"values":[0,10,20,30],"labelOverlap":false},"title":"AF (%)"},"color":{"field":"k","type":"nominal","scale":{"domain":["early apoptosis","late apoptosis","Total apoptosis"],"range":["#9a9a9a","#8a8a8a","#333333"]},"legend":null}}}
    ]},
   {"data":{"values":[{}]},"mark":{"type":"text","fontSize":12,"fontWeight":"bold","dx":5},"encoding":{"x":{"datum":"50"},"y":{"datum":26,"axis":{"values":[0,10,20,30],"labelOverlap":false},"title":"AF (%)"},"text":{"value":"24 h"}}}
  ]},
  {"width":144,"height":89,"layer":[
   {"transform":[{"filter":"datum.c=='D' && datum.t=='48 h'"}],
    "encoding":{"x":{"field":"d","type":"nominal","scale":{"domain":["T0","0","20","50","100"],"paddingInner":0.3,"paddingOuter":0.17},"title":"HHT (ng/mL)"},"xOffset":{"field":"k","type":"nominal","scale":{"domain":["early apoptosis","late apoptosis","Total apoptosis"],"paddingInner":0.3}}},
    "layer":[
     {"mark":{"type":"bar","stroke":"#333","strokeWidth":0.6},"encoding":{"y":{"field":"v","type":"quantitative","scale":{"domain":[0,30]},"axis":{"values":[0,10,20,30],"labelOverlap":false},"title":"AF (%)"},"fill":{"field":"k","type":"nominal","scale":{"domain":["early apoptosis","late apoptosis","Total apoptosis"],"range":["#f4f4f4","#a6a6a6","#000000"]},"legend":{"title":null,"orient":"none","legendX":11,"legendY":2,"rowPadding":1.5,"labelFontSize":8.5}}}},
     {"mark":{"type":"rule","strokeWidth":0.8},"encoding":{"y":{"field":"v","type":"quantitative","axis":{"values":[0,10,20,30],"labelOverlap":false},"title":"AF (%)"},"y2":{"field":"hi"},"color":{"field":"k","type":"nominal","scale":{"domain":["early apoptosis","late apoptosis","Total apoptosis"],"range":["#9a9a9a","#8a8a8a","#333333"]},"legend":null}}},
     {"mark":{"type":"tick","size":4,"thickness":0.8},"encoding":{"y":{"field":"hi","type":"quantitative","axis":{"values":[0,10,20,30],"labelOverlap":false},"title":"AF (%)"},"color":{"field":"k","type":"nominal","scale":{"domain":["early apoptosis","late apoptosis","Total apoptosis"],"range":["#9a9a9a","#8a8a8a","#333333"]},"legend":null}}}
    ]},
   {"data":{"values":[{}]},"mark":{"type":"text","fontSize":12,"fontWeight":"bold","dx":1},"encoding":{"x":{"datum":"50"},"y":{"datum":26,"axis":{"values":[0,10,20,30],"labelOverlap":false},"title":"AF (%)"},"text":{"value":"48 h"}}}
  ]},
  {"width":144,"height":89,"layer":[
   {"transform":[{"filter":"datum.c=='D' && datum.t=='72 h'"}],
    "encoding":{"x":{"field":"d","type":"nominal","scale":{"domain":["T0","0","20","50","100"],"paddingInner":0.3,"paddingOuter":0.17},"title":"HHT (ng/mL)"},"xOffset":{"field":"k","type":"nominal","scale":{"domain":["early apoptosis","late apoptosis","Total apoptosis"],"paddingInner":0.3}}},
    "layer":[
     {"mark":{"type":"bar","stroke":"#333","strokeWidth":0.6},"encoding":{"y":{"field":"v","type":"quantitative","scale":{"domain":[0,30]},"axis":{"values":[0,10,20,30],"labelOverlap":false},"title":"AF (%)"},"fill":{"field":"k","type":"nominal","scale":{"domain":["early apoptosis","late apoptosis","Total apoptosis"],"range":["#f4f4f4","#a6a6a6","#000000"]},"legend":{"title":null,"orient":"none","legendX":11,"legendY":2,"rowPadding":1.5,"labelFontSize":8.5}}}},
     {"mark":{"type":"rule","strokeWidth":0.8},"encoding":{"y":{"field":"v","type":"quantitative","axis":{"values":[0,10,20,30],"labelOverlap":false},"title":"AF (%)"},"y2":{"field":"hi"},"color":{"field":"k","type":"nominal","scale":{"domain":["early apoptosis","late apoptosis","Total apoptosis"],"range":["#9a9a9a","#8a8a8a","#333333"]},"legend":null}}},
     {"mark":{"type":"tick","size":4,"thickness":0.8},"encoding":{"y":{"field":"hi","type":"quantitative","axis":{"values":[0,10,20,30],"labelOverlap":false},"title":"AF (%)"},"color":{"field":"k","type":"nominal","scale":{"domain":["early apoptosis","late apoptosis","Total apoptosis"],"range":["#9a9a9a","#8a8a8a","#333333"]},"legend":null}}}
    ]},
   {"data":{"values":[{}]},"mark":{"type":"text","fontSize":12,"fontWeight":"bold","dx":4},"encoding":{"x":{"datum":"50"},"y":{"datum":25.5,"axis":{"values":[0,10,20,30],"labelOverlap":false},"title":"AF (%)"},"text":{"value":"72 h"}}}
  ]}
 ]}]}
]
}
